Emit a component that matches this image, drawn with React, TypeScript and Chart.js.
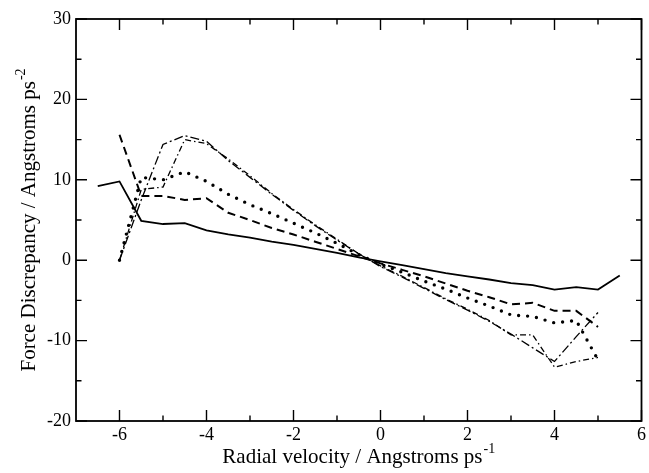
import React, { useEffect, useRef } from 'react';
import { Chart, registerables } from 'chart.js';

Chart.register(...registerables);

// ---- data ----
const xSolid = [-6.5, -6, -5.5, -5, -4.5, -4, -3.5, -3, -2.5, -2, -1.5, -1, -0.5, 0, 0.5, 1, 1.5, 2, 2.5, 3, 3.5, 4, 4.5, 5, 5.5];
const xRest = [-6, -5.5, -5, -4.5, -4, -3.5, -3, -2.5, -2, -1.5, -1, -0.5, 0, 0.5, 1, 1.5, 2, 2.5, 3, 3.5, 4, 4.5, 5];

const solidSeries = [9.2, 9.8, 4.9, 4.5, 4.6, 3.7, 3.2, 2.8, 2.3, 1.9, 1.4, 0.9, 0.35, -0.15, -0.6, -1.1, -1.6, -2.0, -2.4, -2.85, -3.1, -3.65, -3.35, -3.65, -1.9];
const dashedSeries = [15.6, 8.0, 8.0, 7.5, 7.7, 5.9, 5.0, 4.0, 3.2, 2.3, 1.4, 0.5, -0.4, -1.2, -2.0, -2.9, -3.8, -4.6, -5.5, -5.3, -6.3, -6.3, -8.3];
const dottedSeries = [0, 10.3, 10.0, 11.0, 9.8, 8.2, 6.9, 5.8, 4.6, 3.4, 2.1, 0.7, -0.5, -1.5, -2.6, -3.6, -4.7, -5.7, -6.8, -7.0, -7.8, -7.5, -12.4];
const dashDotA = [0, 8.8, 9.1, 15.0, 14.5, 12.6, 10.5, 8.3, 6.3, 4.4, 2.6, 0.8, -0.7, -2.0, -3.4, -4.8, -6.1, -7.5, -9.3, -9.3, -13.3, -12.6, -12.1];
const dashDotB = [0, 7.5, 14.4, 15.5, 14.8, 12.4, 10.3, 8.2, 6.2, 4.3, 2.5, 0.8, -0.8, -2.1, -3.5, -4.9, -6.2, -7.6, -9.2, -10.9, -12.6, -9.5, -6.5];

const xMajorTicks = [-6, -4, -2, 0, 2, 4, 6];
const xMinorTicks = [-5, -3, -1, 1, 3, 5];
const yMajorTicks = [-20, -10, 0, 10, 20, 30];
const yMinorTicks = [-15, -5, 5, 15, 25];

const xTitle = 'Radial velocity / Angstroms ps';
const xTitleSup = '-1';
const yTitle = 'Force Discrepancy / Angstroms ps';
const yTitleSup = '-2';

const FONT = '"Liberation Serif", "Times New Roman", serif';

const toPoints = (xs: number[], ys: number[]) => xs.map((x, i) => ({ x, y: ys[i] }));

const framePlugin = {
  id: 'frameAndTitles',
  afterDatasetsDraw(chart: any) {
    const { ctx, chartArea } = chart;
    const { left, right, top, bottom } = chartArea;
    const xs = chart.scales.x;
    const ys = chart.scales.y;
    ctx.save();
    ctx.strokeStyle = '#000';
    ctx.lineWidth = 1.8;
    ctx.strokeRect(left, top, right - left, bottom - top);
    ctx.lineWidth = 1.4;
    ctx.beginPath();
    const maj = 11;
    const min = 5.5;
    for (const v of xMajorTicks) {
      const p = xs.getPixelForValue(v);
      ctx.moveTo(p, bottom); ctx.lineTo(p, bottom - maj);
      ctx.moveTo(p, top); ctx.lineTo(p, top + maj);
    }
    for (const v of xMinorTicks) {
      const p = xs.getPixelForValue(v);
      ctx.moveTo(p, bottom); ctx.lineTo(p, bottom - min);
      ctx.moveTo(p, top); ctx.lineTo(p, top + min);
    }
    for (const v of yMajorTicks) {
      const p = ys.getPixelForValue(v);
      ctx.moveTo(left, p); ctx.lineTo(left + maj, p);
      ctx.moveTo(right, p); ctx.lineTo(right - maj, p);
    }
    for (const v of yMinorTicks) {
      const p = ys.getPixelForValue(v);
      ctx.moveTo(left, p); ctx.lineTo(left + min, p);
      ctx.moveTo(right, p); ctx.lineTo(right - min, p);
    }
    ctx.stroke();
    ctx.restore();
  },
  afterDraw(chart: any) {
    const { ctx, chartArea } = chart;
    const { left, right, top, bottom } = chartArea;
    ctx.save();
    ctx.fillStyle = '#000';
    ctx.textBaseline = 'alphabetic';
    ctx.textAlign = 'left';
    const mainFont = `21px ${FONT}`;
    const supFont = `14px ${FONT}`;
    // x title
    ctx.font = mainFont;
    const wx = ctx.measureText(xTitle).width;
    ctx.font = supFont;
    const wxs = ctx.measureText(xTitleSup).width;
    const cx = (left + right) / 2;
    const startX = cx - (wx + wxs + 1) / 2;
    const baseX = 463;
    ctx.font = mainFont;
    ctx.fillText(xTitle, startX, baseX);
    ctx.font = supFont;
    ctx.fillText(xTitleSup, startX + wx + 1, baseX - 10);
    // y title
    ctx.font = mainFont;
    const wy = ctx.measureText(yTitle).width;
    ctx.font = supFont;
    const wys = ctx.measureText(yTitleSup).width;
    const cy = (top + bottom) / 2;
    ctx.translate(35, cy + (wy + wys + 1) / 2);
    ctx.rotate(-Math.PI / 2);
    ctx.font = mainFont;
    ctx.fillText(yTitle, 0, 0);
    ctx.font = supFont;
    ctx.fillText(yTitleSup, wy + 1, -10);
    ctx.restore();
  },
};

export default function App() {
  const ref = useRef<HTMLCanvasElement | null>(null);
  useEffect(() => {
    if (!ref.current) return;
    const common = { pointRadius: 0, tension: 0, fill: false, borderColor: '#000' };
    const chart = new Chart(ref.current, {
      type: 'line',
      data: {
        datasets: [
          { ...common, label: 'solid', data: toPoints(xSolid, solidSeries), borderWidth: 1.8 },
          { ...common, label: 'dashed', data: toPoints(xRest, dashedSeries), borderWidth: 2, borderDash: [8, 5] },
          { ...common, label: 'dotted', data: toPoints(xRest, dottedSeries), borderWidth: 3.4, borderDash: [0, 9], borderCapStyle: 'round' },
          { ...common, label: 'dash-dot A', data: toPoints(xRest, dashDotA), borderWidth: 1.3, borderDash: [6, 3, 1.5, 3] },
          { ...common, label: 'dash-dot B', data: toPoints(xRest, dashDotB), borderWidth: 1.3, borderDash: [9, 3, 2, 3] },
        ],
      } as any,
      options: {
        animation: false,
        responsive: false,
        devicePixelRatio: 1,
        layout: { padding: { top: 19, right: 6, left: 0, bottom: 0 } },
        plugins: { legend: { display: false }, tooltip: { enabled: false } },
        scales: {
          x: {
            type: 'linear',
            min: -7,
            max: 6,
            grid: { display: false, drawTicks: false },
            border: { display: false },
            afterBuildTicks: (s: any) => { s.ticks = xMajorTicks.map((v) => ({ value: v })); },
            afterFit: (s: any) => { s.height = 52; },
            ticks: { color: '#000', font: { family: FONT, size: 18 }, padding: 3, autoSkip: false, maxRotation: 0 },
          },
          y: {
            type: 'linear',
            min: -20,
            max: 30,
            grid: { display: false, drawTicks: false },
            border: { display: false },
            afterBuildTicks: (s: any) => { s.ticks = yMajorTicks.map((v) => ({ value: v })); },
            afterFit: (s: any) => { s.width = 76; },
            ticks: { color: '#000', font: { family: FONT, size: 18 }, padding: 5 },
          },
        },
      } as any,
      plugins: [framePlugin],
    });
    return () => chart.destroy();
  }, []);
  return (
    <canvas
      ref={ref}
      width={649}
      height={473}
      style={{ position: 'fixed', left: 0, top: 0, width: 649, height: 473, background: '#fff' }}
    />
  );
}
